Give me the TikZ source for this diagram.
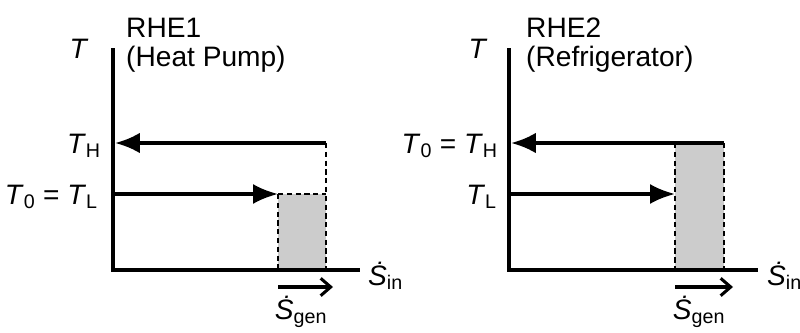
\documentclass[tikz,border=0pt]{standalone}
\usepackage{fontspec}
\setmainfont{Liberation Sans}
\usetikzlibrary{arrows.meta, positioning}

\newcommand{\Tsub}[1]{\textit{T}\textsubscript{#1}}
\newcommand{\Sdotsub}[1]{\textit{\.{S}}\textsubscript{#1}}

\begin{document}
\begin{tikzpicture}[x=0.03cm, y=-0.03cm,
  AX/.style ={line width=3.4pt},
  HF/.style ={line width=3.4pt, -{Latex[length=0.75cm, width=0.62cm]}, shorten >=1.6pt},
  LF/.style ={line width=2.6pt, -{Latex[length=0.75cm, width=0.6cm]}},
  GD/.style ={line width=1.1pt, dash pattern=on 4.5pt off 3pt},
  SG/.style ={line width=2.6pt, -{Straight Barb[length=0.3cm, width=0.52cm]}},
  LB/.style ={font=\fontsize{24}{29}\selectfont, inner sep=0pt},
  BX/.style ={fill=gray!40}
]
  \path[use as bounding box, clip] (0,0) rectangle (800,333);

  % panel 1: heat pump
  \coordinate (o1)  at (113,270);
  \coordinate (yt1) at (113,48);
  \coordinate (xe1) at (360,270);
  \coordinate (h1)  at (326,143);
  \coordinate (l1)  at (278,194);
  \coordinate (g1a) at (278,287);
  \coordinate (g1b) at (333,287);

  \fill[BX] (l1) rectangle (o1 -| h1);
  \draw[GD] (h1) -- (o1 -| h1);
  \draw[GD] (l1) -- (l1 -| h1);
  \draw[GD] (l1) -- (o1 -| l1);
  \draw[AX] (yt1) -- (o1) -- (xe1);
  \draw[HF] (h1) -- (h1 -| o1);
  \draw[LF] (l1 -| o1) -- (l1);
  \draw[SG] (g1a) -- (g1b);

  \node[LB, anchor=base] (ax1) at (79,58) {\textit{T}};
  \node[LB, anchor=base west] (tt1) at (126,37) {RHE1};
  \node[LB, anchor=base west] (st1) at (126,66) {(Heat Pump)};
  \node[LB, anchor=base east] (th1) at (101,153) {\Tsub{H}};
  \node[LB, anchor=base east] (tl1) at (98,204) {\Tsub{0} = \Tsub{L}};
  \node[LB, anchor=base west] (si1) at (368,285) {\Sdotsub{in}};
  \node[LB, anchor=base] (sg1) at (301,319) {\Sdotsub{gen}};

  % panel 2: refrigerator
  \coordinate (o2)  at (509,270);
  \coordinate (yt2) at (509,48);
  \coordinate (xe2) at (758,270);
  \coordinate (h2)  at (724,143);
  \coordinate (l2)  at (675,194);
  \coordinate (g2a) at (675,287);
  \coordinate (g2b) at (733,287);

  \fill[BX] (h2 -| l2) rectangle (o2 -| h2);
  \draw[GD] (h2) -- (o2 -| h2);
  \draw[GD] (h2 -| l2) -- (o2 -| l2);
  \draw[AX] (yt2) -- (o2) -- (xe2);
  \draw[HF] (h2) -- (h2 -| o2);
  \draw[LF] (l2 -| o2) -- (l2);
  \draw[SG] (g2a) -- (g2b);

  \node[LB, anchor=base] (ax2) at (478,58) {\textit{T}};
  \node[LB, anchor=base west] (tt2) at (526,37) {RHE2};
  \node[LB, anchor=base west] (st2) at (526,66) {(Refrigerator)};
  \node[LB, anchor=base east] (th2) at (498,153) {\Tsub{0} = \Tsub{H}};
  \node[LB, anchor=base east] (tl2) at (497,204) {\Tsub{L}};
  \node[LB, anchor=base west] (si2) at (767,285) {\Sdotsub{in}};
  \node[LB, anchor=base] (sg2) at (699,319) {\Sdotsub{gen}};
\end{tikzpicture}
\end{document}
